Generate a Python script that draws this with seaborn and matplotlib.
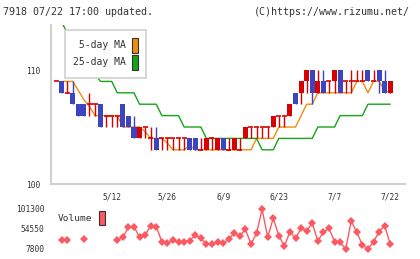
import numpy as np
import seaborn as sns
import matplotlib
matplotlib.use("Agg")
import matplotlib.pyplot as plt
from matplotlib.patches import Patch

title_left = "7918 07/22 17:00 updated."
title_right = "(C)https://www.rizumu.net/"

# daily prices (index 0 = 4/23 ... index 60 = 7/22)
opens = [109, 109, 108, 108, 107, 107, 107, 107, 107, 106,
         106, 106, 107, 106, 105, 104, 105, 104, 104, 104,
         104, 104, 104, 104, 104, 104, 103, 103, 104, 103,
         104, 103, 103, 103, 104, 105, 105, 105, 105, 105,
         106, 106, 106, 108, 108, 109, 110, 108, 109, 109,
         109, 110, 109, 109, 109, 109, 110, 109, 110, 109, 108]
highs = [109, 109, 109, 109, 107, 107, 108, 107, 107, 106,
         106, 106, 107, 106, 106, 105, 105, 105, 105, 104,
         104, 104, 104, 104, 104, 104, 104, 104, 104, 104,
         104, 104, 104, 104, 105, 105, 105, 105, 105, 106,
         106, 106, 107, 108, 109, 110, 110, 110, 110, 109,
         110, 110, 109, 110, 110, 110, 110, 110, 110, 110, 109]
lows = [109, 108, 108, 107, 106, 106, 106, 106, 105, 105,
        105, 105, 105, 105, 104, 104, 104, 103, 103, 103,
        103, 103, 103, 103, 103, 103, 103, 103, 103, 103,
        103, 103, 103, 103, 104, 104, 104, 104, 104, 105,
        105, 105, 106, 107, 107, 108, 107, 108, 108, 108,
        108, 108, 108, 108, 109, 109, 109, 109, 108, 108, 108]
closes = [109, 108, 108, 107, 106, 106, 107, 107, 105, 106,
          106, 106, 105, 105, 104, 105, 105, 104, 103, 104,
          104, 104, 104, 104, 103, 103, 103, 104, 104, 104,
          103, 103, 104, 103, 105, 105, 105, 105, 105, 106,
          106, 106, 107, 107, 109, 110, 108, 109, 108, 109,
          110, 108, 109, 109, 109, 109, 109, 109, 109, 108, 109]

ma5 = [np.nan, 109, 109, 109, 108.2, 107.4, 106.8, 106, 106, 106,
       106, 106, 105, 105, 105, 105, 104.6, 104, 104, 104,
       103.6, 103, 103, 103, 103.4, 103, 103, 103, 103, 103,
       103, 103, 103, 103, 103, 103, 104, 104, 104, 104,
       105, 105, 105, 105, 106, 107, 107, 108, 108, 108,
       108, 108, 108, 108, 109, 109, 108, 109, 109, 108.2, 108]
ma25 = [np.nan, 114.2, 113.3, 112.5, 111.7, 110.9, 110.2, 109.6, 109, 109,
        109, 108, 108, 108, 108, 107, 107, 107, 107, 106,
        106, 106, 106, 105, 105, 105, 105, 104, 104, 104,
        104, 104, 104, 104, 104, 104, 104, 103, 103, 103,
        104, 104, 104, 104, 104, 104, 104, 105, 105, 105,
        105, 106, 106, 106, 106, 106, 107, 107, 107, 107, 107]

volume = [np.nan, 28800, 28800, np.nan, np.nan, 30500, np.nan, np.nan, np.nan, np.nan,
          np.nan, 28800, 35100, 58500, 60000, 35100, 40500, 62300, 60000, 24900,
          21100, 28800, 23400, 24900, 27200, 40500, 32800, 19500, 19500, 23400,
          21100, 30500, 44500, 38200, 53800, 19500, 44500, 100600, 35100, 79600,
          38900, 14800, 48300, 32800, 56200, 50600, 67700, 27200, 46800, 56200,
          24900, 23400, 7800, 73300, 46800, 17200, 7800, 24900, 48300, 62300, 19500]

date_pos = [10, 20, 30, 40, 50, 60]
date_labels = ["5/12", "5/26", "6/9", "6/23", "7/7", "7/22"]
price_ticks = [100, 110]
vol_ticks = [7800, 54550, 101300]

RED = "#d80000"
BLUE = "#3d44bf"
ORANGE = "#f08c10"
GREEN = "#16a516"
VOLC = "#fa5a62"
AXC = "#d0d0d0"
TXT = "#333333"

sns.set_style("white")
plt.rcParams["font.family"] = ["DejaVu Sans Mono"]

W, H = 420, 259
fig = plt.figure(figsize=(W / 100, H / 100), dpi=100)

def px_axes(l, t, r, b):
    return fig.add_axes([l / W, 1 - b / H, (r - l) / W, (b - t) / H])

ax = px_axes(51, 25, 405, 184)
axv = px_axes(51, 205, 405, 252)

x = np.arange(len(closes))
o = np.array(opens, float)
c = np.array(closes, float)
hi = np.array(highs, float)
lo = np.array(lows, float)
colors = np.where(c >= o, RED, BLUE)

# moving averages
sns.lineplot(x=x, y=ma5, ax=ax, color=ORANGE, lw=1, zorder=2)
sns.lineplot(x=x, y=ma25, ax=ax, color=GREEN, lw=1, zorder=2)

# candles
ax.vlines(x, lo, hi, colors=colors, lw=1, zorder=3)
body = c != o
ax.bar(x[body], np.abs(c - o)[body], bottom=np.minimum(o, c)[body],
       width=0.9, color=colors[body], lw=0, zorder=4)
ax.hlines(o[~body], x[~body] - 0.45, x[~body] + 0.45, colors=colors[~body],
          lw=1.2, zorder=4)

xl = (-0.9, 62.65)
ax.set_xlim(*xl)
ax.set_ylim(100, 113.95)
ax.set_yticks(price_ticks, [str(v) for v in price_ticks])
ax.set_xticks(np.linspace(xl[0], xl[1], 12)[1:], [""] * 11)
ax.set_xticks(date_pos, date_labels, minor=True)
ax.tick_params(axis="x", which="major", direction="out", length=4, width=1.2, color=AXC)
ax.tick_params(axis="x", which="minor", length=0, pad=6, labelsize=5.7, labelcolor=TXT)
ax.tick_params(axis="y", direction="out", length=5, width=1.2, color=AXC,
               pad=2.5, labelsize=5.7, labelcolor=TXT)
for s in ["top", "right"]:
    ax.spines[s].set_visible(False)
for s in ["left", "bottom"]:
    ax.spines[s].set_color(AXC)
    ax.spines[s].set_linewidth(1.5)
ax.set_xlabel("")
ax.set_ylabel("")

handles = [Patch(facecolor=ORANGE, edgecolor=TXT, lw=0.8, label=" 5-day MA"),
           Patch(facecolor=GREEN, edgecolor=TXT, lw=0.8, label="25-day MA")]
leg = ax.legend(handles=handles, markerfirst=False, loc="upper left",
                bbox_to_anchor=(65 / W, 1 - 30 / H), bbox_transform=fig.transFigure,
                frameon=True, fancybox=False, edgecolor=AXC, facecolor="white",
                framealpha=1, fontsize=7, handlelength=0.62, handleheight=2.0,
                handletextpad=0.7, borderpad=0.8, labelspacing=0.2, borderaxespad=0)
leg.set_zorder(10)
leg.get_frame().set_linewidth(1.2)
for t in leg.get_texts():
    t.set_color(TXT)

# volume
axv.plot(x, volume, color=VOLC, lw=1, marker="D", ms=3.6, mew=0, zorder=2)
axv.set_xlim(*xl)
axv.set_ylim(780, 110650)
axv.set_xticks([])
axv.set_yticks(vol_ticks, [str(v) for v in vol_ticks])
axv.tick_params(axis="y", length=0, pad=5, labelsize=5.7, labelcolor=TXT)
for s in axv.spines.values():
    s.set_visible(False)
vleg = axv.legend(handles=[Patch(facecolor=VOLC, edgecolor=TXT, lw=0.8, label="Volume")],
                  markerfirst=False, loc="upper left",
                  bbox_to_anchor=(55 / W, 1 - 208 / H), bbox_transform=fig.transFigure,
                  frameon=True, fancybox=False, edgecolor="white", facecolor="white",
                  framealpha=1, fontsize=6.8, handlelength=0.62, handleheight=2.0,
                  handletextpad=0.7, borderpad=0.3, borderaxespad=0)
vleg.set_zorder(10)
for t in vleg.get_texts():
    t.set_color(TXT)

fig.text(3 / W, 1 - 12 / H, title_left, ha="left", va="center", fontsize=7.2, color=TXT)
fig.text(410 / W, 1 - 12 / H, title_right, ha="right", va="center", fontsize=7.2, color=TXT)

fig.savefig("out.png", dpi=100)
